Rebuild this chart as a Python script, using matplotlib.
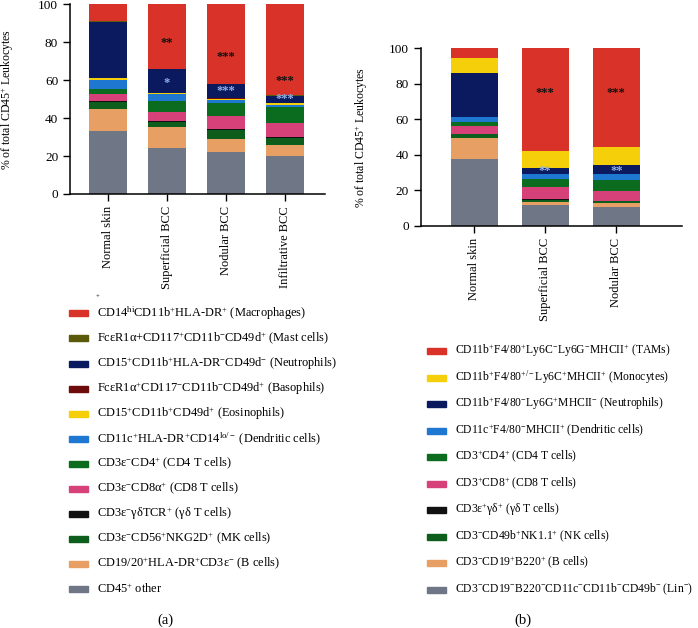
import matplotlib
matplotlib.use("Agg")
import matplotlib.pyplot as plt
from matplotlib.patches import Rectangle
import numpy as np

plt.rcParams["font.family"] = ["Liberation Serif", "DejaVu Serif"]
plt.rcParams["mathtext.fontset"] = "custom"
plt.rcParams["mathtext.rm"] = "Liberation Serif"
plt.rcParams["mathtext.it"] = "Liberation Serif:italic"

# ---- panel (a): human ----
groups_a = ["Normal skin", "Superficial BCC", "Nodular BCC", "Infiltrative BCC"]
# stacked bottom -> top
labels_a = [
    "CD45$^{+}$ other",
    "CD19/20$^{+}$HLA-DR$^{+}$CD3ε$^{-}$ (B cells)",
    "CD3ε$^{-}$CD56$^{+}$NKG2D$^{+}$ (MK cells)",
    "CD3ε$^{-}$γδTCR$^{+}$ (γδ T cells)",
    "CD3ε$^{-}$CD8α$^{+}$ (CD8 T cells)",
    "CD3ε$^{-}$CD4$^{+}$ (CD4 T cells)",
    "CD11c$^{+}$HLA-DR$^{+}$CD14$^{\\mathrm{lo/-}}$ (Dendritic cells)",
    "CD15$^{+}$CD11b$^{+}$CD49d$^{+}$ (Eosinophils)",
    "FcεR1α$^{+}$CD117$^{-}$CD11b$^{-}$CD49d$^{+}$ (Basophils)",
    "CD15$^{+}$CD11b$^{+}$HLA-DR$^{-}$CD49d$^{-}$ (Neutrophils)",
    "FcεR1α+CD117$^{+}$CD11b$^{-}$CD49d$^{+}$ (Mast cells)",
    "CD14$^{\\mathrm{hi}}$CD11b$^{+}$HLA-DR$^{+}$ (Macrophages)",
]
colors_a = ["#6f7686", "#e89f63", "#0d5e1c", "#111111", "#d6417a", "#0b6b1e",
            "#1e78d2", "#f5cf0a", "#6e0c0c", "#0b1a5e", "#5a5a0a", "#d93228"]
other_a = [33.0, 24.4, 22.1, 20.0]
bcell_a = [11.8, 10.9, 6.9, 5.7]
nk_a = [3.6, 2.9, 4.9, 3.9]
gd_a = [0.4, 0.3, 0.4, 0.5]
cd8_a = [3.9, 4.9, 7.0, 7.3]
cd4_a = [2.7, 5.8, 6.9, 8.3]
dc_a = [4.7, 3.7, 1.5, 1.4]
eos_a = [0.9, 0.1, 0.6, 0.9]
baso_a = [0.2, 0.3, 0.2, 0.2]
neut_a = [29.7, 12.6, 7.3, 3.6]
mast_a = [0.3, 0.2, 0.2, 0.2]
macro_a = [8.8, 33.9, 42.0, 48.0]
series_a = [other_a, bcell_a, nk_a, gd_a, cd8_a, cd4_a, dc_a, eos_a, baso_a,
            neut_a, mast_a, macro_a]
# significance marks: (group index, text, y, colour)
stars_a = [(1, "**", 79.5, "#111111"), (1, "*", 58.3, "#8fb0e6"),
           (2, "***", 72.0, "#111111"), (2, "***", 54.3, "#8fb0e6"),
           (3, "***", 59.8, "#111111"), (3, "***", 50.1, "#8fb0e6")]

# ---- panel (b): mouse ----
groups_b = ["Normal skin", "Superficial BCC", "Nodular BCC"]
labels_b = [
    "CD3$^{-}$CD19$^{-}$B220$^{-}$CD11c$^{-}$CD11b$^{-}$CD49b$^{-}$ (Lin$^{-}$)",
    "CD3$^{-}$CD19$^{+}$B220$^{+}$ (B cells)",
    "CD3$^{-}$CD49b$^{+}$NK1.1$^{+}$ (NK cells)",
    "CD3ε$^{+}$γδ$^{+}$ (γδ T cells)",
    "CD3$^{+}$CD8$^{+}$ (CD8 T cells)",
    "CD3$^{+}$CD4$^{+}$ (CD4 T cells)",
    "CD11c$^{+}$F4/80$^{-}$MHCII$^{+}$ (Dendritic cells)",
    "CD11b$^{+}$F4/80$^{-}$Ly6G$^{+}$MHCII$^{-}$ (Neutrophils)",
    "CD11b$^{+}$F4/80$^{+/-}$Ly6C$^{+}$MHCII$^{+}$ (Monocytes)",
    "CD11b$^{+}$F4/80$^{+}$Ly6C$^{-}$Ly6G$^{-}$MHCII$^{+}$ (TAMs)",
]
colors_b = ["#6f7686", "#e89f63", "#0d5e1c", "#111111", "#d6417a", "#0b6b1e",
            "#1e78d2", "#0b1a5e", "#f5cf0a", "#d93228"]
lin_b = [37.7, 12.0, 10.7]
bcell_b = [12.0, 1.7, 2.1]
nk_b = [2.0, 1.1, 1.1]
gd_b = [0.3, 0.3, 0.4]
cd8_b = [4.5, 6.7, 5.4]
cd4_b = [2.2, 4.8, 6.2]
dc_b = [2.7, 2.7, 3.2]
neut_b = [24.9, 3.5, 5.2]
mono_b = [8.1, 9.6, 10.0]
tam_b = [5.6, 57.6, 55.7]
series_b = [lin_b, bcell_b, nk_b, gd_b, cd8_b, cd4_b, dc_b, neut_b, mono_b, tam_b]
stars_b = [(1, "***", 74.7, "#111111"), (1, "**", 30.8, "#8fb0e6"),
           (2, "***", 74.7, "#111111"), (2, "**", 31.0, "#8fb0e6")]

W, H = 698, 628
fig = plt.figure(figsize=(W / 100, H / 100), dpi=100)
ax_a = fig.add_axes([70 / W, 1 - 194 / H, 255 / W, 189.7 / H])
ax_b = fig.add_axes([420.7 / W, 1 - 226 / H, 261 / W, 177.7 / H])


def stacked(ax, groups, series, colors, stars, width):
    x = np.arange(len(groups))
    bottom = np.zeros(len(groups))
    for vals, c in zip(series, colors):
        ax.bar(x, vals, width=width, bottom=bottom, color=c, edgecolor="none")
        bottom += np.array(vals)
    for gi, txt, y, c in stars:
        ax.text(x[gi], y, txt, ha="center", va="center", fontsize=9, color=c,
                fontweight="bold")
    ax.set_ylim(0, 100)
    ax.set_yticks([0, 20, 40, 60, 80, 100])
    ax.set_xticks(x)
    ax.set_xticklabels(groups, rotation=90, fontsize=9)
    ax.tick_params(axis="y", labelsize=9.5, length=5, width=1)
    ax.tick_params(axis="x", length=5, width=1)
    for s in ("top", "right"):
        ax.spines[s].set_visible(False)
    for s in ("left", "bottom"):
        ax.spines[s].set_linewidth(1.1)
    ax.set_ylabel("% of total CD45$^{+}$ Leukocytes", fontsize=8.5)


stacked(ax_a, groups_a, series_a, colors_a, stars_a, 0.64)
ax_a.set_xlim(-0.64, 3.68)
ax_a.yaxis.set_label_coords(-0.21, 0.5)

stacked(ax_b, groups_b, series_b, colors_b, stars_b, 0.66)
ax_b.set_xlim(-0.75, 2.92)
ax_b.yaxis.set_label_coords(-0.194, 0.5)


def legend(labels, colors, x0, y0, dy, fs):
    # entries listed top -> bottom (reverse of stack order)
    for i, (lab, c) in enumerate(zip(labels[::-1], colors[::-1])):
        yc = y0 + i * dy
        fig.add_artist(Rectangle((x0 / W, 1 - (yc + 3) / H), 19 / W, 6 / H,
                                 transform=fig.transFigure, color=c))
        fig.text((x0 + 28) / W, 1 - yc / H, lab, fontsize=fs, va="center",
                 ha="left")


legend(labels_a, colors_a, 69, 313.3, 25.1, 8.9)
legend(labels_b, colors_b, 427, 351, 26.5, 8.4)

fig.text(98 / W, 1 - 297 / H, "+", fontsize=5, ha="center", va="center")
fig.text(165 / W, 1 - 620 / H, "(a)", fontsize=10.5, ha="center", va="center")
fig.text(523 / W, 1 - 620 / H, "(b)", fontsize=10.5, ha="center", va="center")

fig.savefig("out.png", dpi=100)
